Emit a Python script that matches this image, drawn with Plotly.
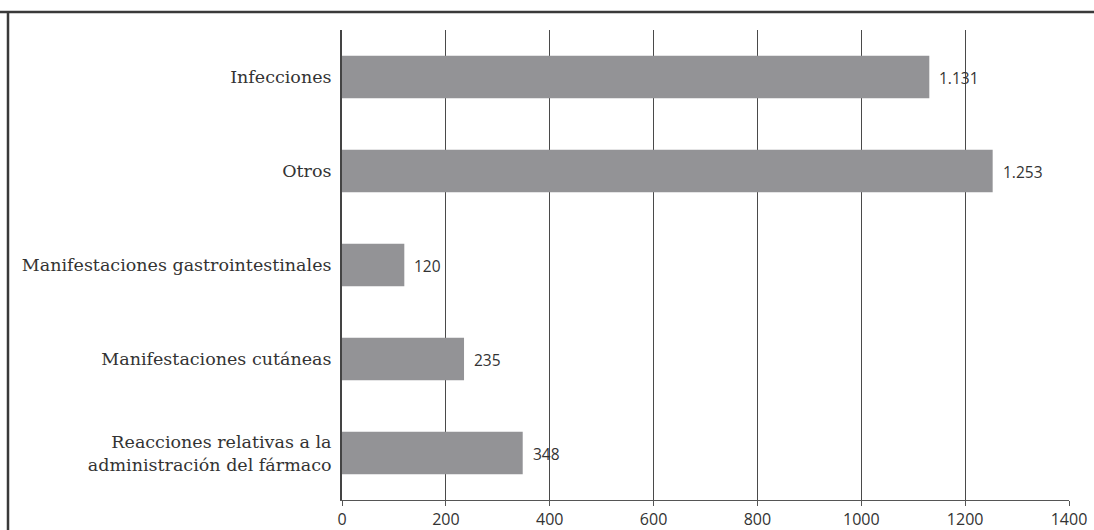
import plotly.graph_objects as go

categories = [
    "Infecciones",
    "Otros",
    "Manifestaciones gastrointestinales",
    "Manifestaciones cutáneas",
    "Reacciones relativas a la<br>administración del fármaco",
]
values = [1131, 1253, 120, 235, 348]
value_labels = ["1.131", "1.253", "120", "235", "348"]
tick_values = [0, 200, 400, 600, 800, 1000, 1200, 1400]

fig = go.Figure()
fig.add_trace(go.Bar(
    x=values,
    y=categories,
    orientation="h",
    marker=dict(color="#939396", line=dict(width=0)),
    width=0.45,
    hoverinfo="skip",
))

for v, lab, cat in zip(values, value_labels, categories):
    fig.add_annotation(
        x=v, y=cat, text=lab, showarrow=False,
        xanchor="left", yanchor="middle", xshift=8, yshift=-1,
        font=dict(family="Open Sans, sans-serif", size=15.5, color="#333333"),
    )

fig.update_layout(
    width=1094, height=530,
    margin=dict(l=342, r=25, t=30, b=30, autoexpand=False),
    paper_bgcolor="white",
    plot_bgcolor="white",
    showlegend=False,
    xaxis=dict(
        range=[0, 1400],
        tickvals=tick_values,
        ticktext=[str(t) for t in tick_values],
        showgrid=True, gridcolor="#4a4a4a", gridwidth=1,
        showline=True, linecolor="#555555", linewidth=1,
        ticks="outside", ticklen=5, tickcolor="#555555",
        ticklabelstandoff=0,
        tickfont=dict(family="Open Sans, sans-serif", size=16, color="#333333"),
        zeroline=False,
        automargin=False,
        fixedrange=True,
    ),
    yaxis=dict(
        categoryorder="array",
        categoryarray=categories,
        autorange="reversed",
        showgrid=False,
        showline=True, linecolor="#444444", linewidth=2,
        ticks="", ticklabelstandoff=5,
        tickfont=dict(family="DejaVu Serif, serif", size=17.5, color="#333333"),
        automargin=False,
        fixedrange=True,
    ),
    shapes=[
        dict(type="line", xref="paper", yref="paper",
             x0=-342/727, x1=(1094-342)/727 + 0.01,
             y0=1 + 18/470, y1=1 + 18/470,
             line=dict(color="#3a3a3a", width=2.5)),
        dict(type="line", xref="paper", yref="paper",
             x0=-(342-8)/727, x1=-(342-8)/727,
             y0=1 + 18/470, y1=-0.2,
             line=dict(color="#3a3a3a", width=2.5)),
    ],
)

fig.write_html("out.html")
